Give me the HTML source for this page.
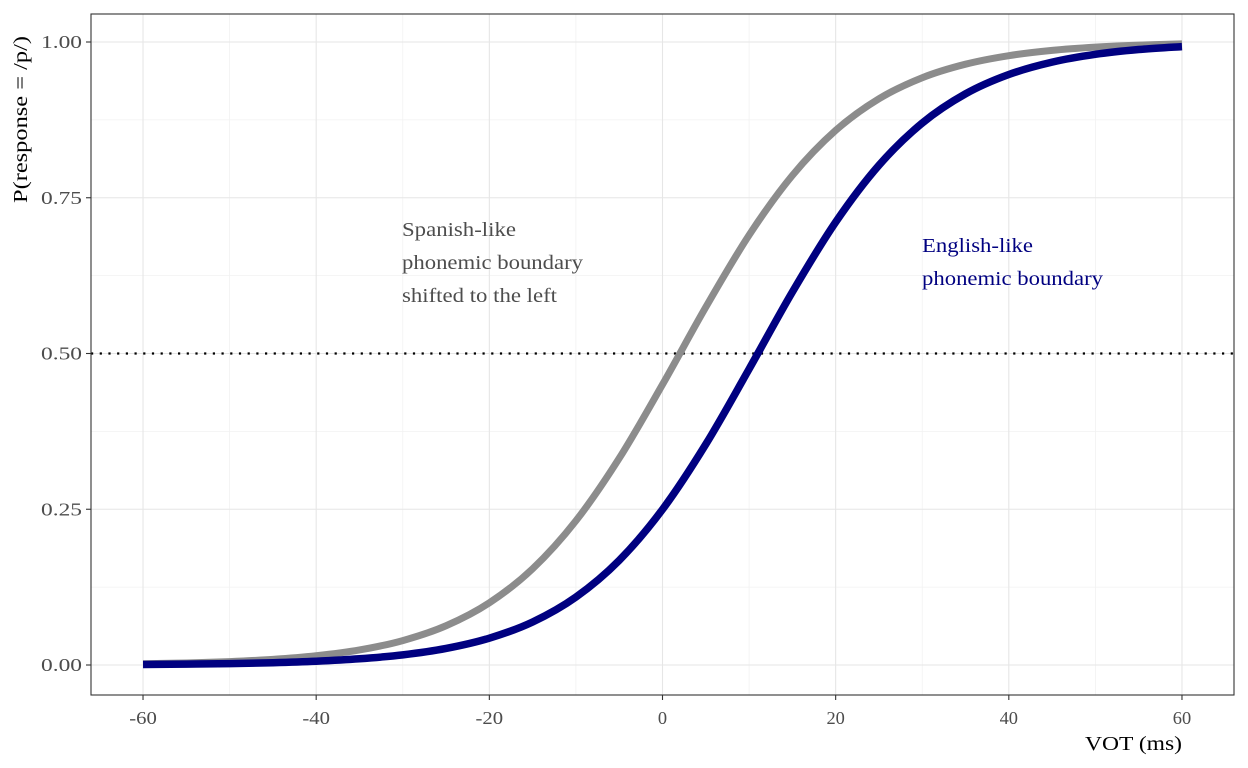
<!DOCTYPE html>
<html><head><meta charset="utf-8"><style>
html,body{margin:0;padding:0;background:#fff}
svg{display:block;font-family:"Liberation Serif",serif}
</style></head><body>
<svg id="chart" width="1248" height="768" viewBox="0 0 1248 768" xmlns="http://www.w3.org/2000/svg">
<g id="grid"></g>
<line x1="91" x2="1234" y1="353.5" y2="353.5" stroke="#000" stroke-width="2.2" stroke-dasharray="2.2 6.5"/>
<g id="series"></g>
<rect x="91" y="14" width="1143" height="681" fill="none" stroke="#333" stroke-width="1.1"/>
<g id="axes"></g>
<text fill="#4d4d4d" font-size="20.5">
<tspan x="402" y="236" textLength="114" lengthAdjust="spacingAndGlyphs">Spanish-like</tspan><tspan x="402" y="269" textLength="181" lengthAdjust="spacingAndGlyphs">phonemic boundary</tspan><tspan x="402" y="302" textLength="155" lengthAdjust="spacingAndGlyphs">shifted to the left</tspan></text>
<text fill="#000080" font-size="20.5">
<tspan x="922" y="252" textLength="111" lengthAdjust="spacingAndGlyphs">English-like</tspan><tspan x="922" y="285" textLength="181" lengthAdjust="spacingAndGlyphs">phonemic boundary</tspan></text>
<text x="1085" y="750" font-size="20" fill="#000" textLength="97" lengthAdjust="spacingAndGlyphs">VOT (ms)</text>
<text transform="translate(27,203) rotate(-90)" font-size="20" fill="#000" textLength="167" lengthAdjust="spacingAndGlyphs">P(response = /p/)</text>
</svg>
<script>
const vot = [-60,-55,-50,-45,-40,-35,-30,-25,-20,-15,-10,-5,0,5,10,15,20,25,30,35,40,45,50,55,60];
const spanishP = [0.0020,0.0033,0.0055,0.0090,0.0148,0.0241,0.0392,0.0630,0.0998,0.1545,0.2315,0.3318,0.4502,0.5744,0.6900,0.7858,0.8581,0.9089,0.9427,0.9644,0.9781,0.9866,0.9918,0.9950,0.9970];
const englishP = [0.0008,0.0014,0.0022,0.0037,0.0061,0.0100,0.0163,0.0266,0.0431,0.0691,0.1091,0.1680,0.2497,0.3543,0.4750,0.5987,0.7109,0.8022,0.8699,0.9168,0.9478,0.9677,0.9802,0.9879,0.9926];
const xTicks = [-60,-40,-20,0,20,40,60];
const xMinor = [-50,-30,-10,10,30,50];
const yTicks = [0,0.25,0.5,0.75,1];
const yTickLabels = ["0.00","0.25","0.50","0.75","1.00"];
const yMinor = [0.125,0.375,0.625,0.875];

const NS="http://www.w3.org/2000/svg";
const X = v => 662.5 + v*8.658;
const Y = p => 665 - p*623;
const L = 91, R = 1234, T = 14, B = 695;
function mk(tag, attrs, parent){const e=document.createElementNS(NS,tag);for(const k in attrs)e.setAttribute(k,attrs[k]);parent.appendChild(e);return e;}
const grid=document.getElementById('grid'), axes=document.getElementById('axes'), series=document.getElementById('series');
xMinor.forEach(v=>{const l=mk('line',{x1:X(v),x2:X(v),y1:T,y2:B,stroke:'#f2f2f2','stroke-width':0.8},grid);

});
yMinor.forEach(v=>{const l=mk('line',{x1:L,x2:R,y1:Y(v),y2:Y(v),stroke:'#f2f2f2','stroke-width':0.8},grid);

});
xTicks.forEach(v=>{const l=mk('line',{x1:X(v),x2:X(v),y1:T,y2:B,stroke:'#e6e6e6','stroke-width':1.1},grid);


const t=mk('line',{x1:X(v),x2:X(v),y1:B,y2:B+5,stroke:'#333','stroke-width':1.1},axes);


const s=String(v);
const w=s.length*9.2;
const tx=mk('text',{x:X(v),y:B+29,'text-anchor':'middle','font-size':17.5,fill:'#4d4d4d',textLength:w,lengthAdjust:'spacingAndGlyphs'},axes);
tx.textContent=s;

});
yTicks.forEach((v,i)=>{const l=mk('line',{x1:L,x2:R,y1:Y(v),y2:Y(v),stroke:'#e6e6e6','stroke-width':1.1},grid);


const t=mk('line',{x1:L-5,x2:L,y1:Y(v),y2:Y(v),stroke:'#333','stroke-width':1.1},axes);


const tx=mk('text',{x:L-50,y:Y(v)+6,'font-size':17.5,fill:'#4d4d4d',textLength:41,lengthAdjust:'spacingAndGlyphs'},axes);
tx.textContent=yTickLabels[i];

});
function pathFor(ys){
  const pts=vot.map((v,i)=>[X(v),Y(ys[i])]);
  let d='M'+pts[0][0]+','+pts[0][1];
  for(let i=0;i<pts.length-1;i++){
    const p0=pts[Math.max(i-1,0)],p1=pts[i],p2=pts[i+1],p3=pts[Math.min(i+2,pts.length-1)];
    const c1=[p1[0]+(p2[0]-p0[0])/6,p1[1]+(p2[1]-p0[1])/6];
    const c2=[p2[0]-(p3[0]-p1[0])/6,p2[1]-(p3[1]-p1[1])/6];
    d+=' C'+c1+' '+c2+' '+p2;
  }
  return d;
}
const g=mk('path',{d:pathFor(spanishP),fill:'none',stroke:'#8c8c8c','stroke-width':7},series);


const b=mk('path',{d:pathFor(englishP),fill:'none',stroke:'#000080','stroke-width':7.5},series);


</script>
</body></html>
